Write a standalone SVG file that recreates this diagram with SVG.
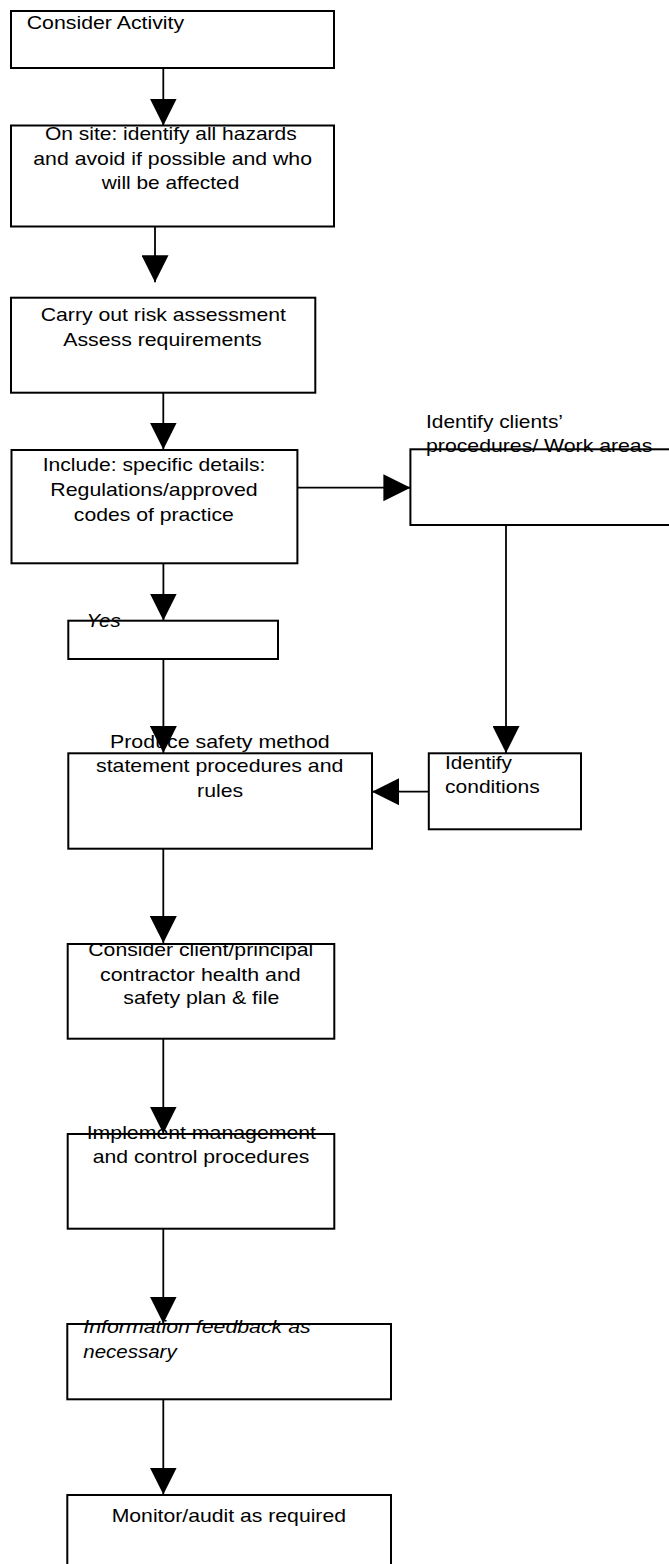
<svg xmlns="http://www.w3.org/2000/svg" width="669" height="1564" viewBox="0 0 669 1564">
<style>
  .box { fill: #ffffff; stroke: #000000; stroke-width: 2; }
  .t { font-family: "Liberation Sans", Arial, sans-serif; font-size: 19px; fill: #000000; }
  .i { font-style: italic; }
  .c { fill: none; stroke: #000000; stroke-width: 1.8; }
</style>
<defs>
  <marker id="ah" viewBox="0 0 27 27" refX="27" refY="13.5" markerWidth="27" markerHeight="27" markerUnits="userSpaceOnUse" orient="auto">
    <path d="M0,0 L27,13.5 L0,27 Z" fill="#000000"/>
  </marker>
</defs>
<rect width="669" height="1564" fill="#ffffff"/>

<g id="n1">
  <rect class="box" x="11" y="11" width="323" height="57"/>
  <text class="t" x="26.7" y="29" textLength="157.5" lengthAdjust="spacingAndGlyphs">Consider Activity</text>
</g>
<g id="n2">
  <rect class="box" x="11" y="125.5" width="323" height="101"/>
  <text class="t" x="45" y="140" textLength="251.7" lengthAdjust="spacingAndGlyphs">On site: identify all hazards</text>
  <text class="t" x="33.3" y="164.5" textLength="278.7" lengthAdjust="spacingAndGlyphs">and avoid if possible and who</text>
  <text class="t" x="101.7" y="189" textLength="137.6" lengthAdjust="spacingAndGlyphs">will be affected</text>
</g>
<g id="n3">
  <rect class="box" x="11" y="297.7" width="304.3" height="95"/>
  <text class="t" x="40.7" y="320.7" textLength="245.3" lengthAdjust="spacingAndGlyphs">Carry out risk assessment</text>
  <text class="t" x="63.3" y="346" textLength="198.4" lengthAdjust="spacingAndGlyphs">Assess requirements</text>
</g>
<g id="n4">
  <rect class="box" x="11.5" y="450" width="285.9" height="113.3"/>
  <text class="t" x="42.7" y="471" textLength="222.7" lengthAdjust="spacingAndGlyphs">Include: specific details:</text>
  <text class="t" x="50.3" y="495.7" textLength="207.4" lengthAdjust="spacingAndGlyphs">Regulations/approved</text>
  <text class="t" x="73.8" y="520.7" textLength="160" lengthAdjust="spacingAndGlyphs">codes of practice</text>
</g>
<g id="n5">
  <rect class="box" x="410.4" y="449.3" width="270" height="75.7"/>
  <text class="t" x="426" y="428.3" textLength="137" lengthAdjust="spacingAndGlyphs">Identify clients’</text>
  <text class="t" x="426" y="451.7" textLength="226.3" lengthAdjust="spacingAndGlyphs">procedures/ Work areas</text>
</g>
<g id="n6">
  <rect class="box" x="68.3" y="620.7" width="209.7" height="38.3"/>
  <text class="t i" x="86.6" y="626.7" textLength="34" lengthAdjust="spacingAndGlyphs">Yes</text>
</g>
<g id="n7">
  <rect class="box" x="68.3" y="753.3" width="303.7" height="95.4"/>
  <text class="t" x="110" y="748.3" textLength="219.7" lengthAdjust="spacingAndGlyphs">Produce safety method</text>
  <text class="t" x="96" y="771.7" textLength="247.4" lengthAdjust="spacingAndGlyphs">statement procedures and</text>
  <text class="t" x="197.1" y="796.7" textLength="46" lengthAdjust="spacingAndGlyphs">rules</text>
</g>
<g id="n8">
  <rect class="box" x="428.8" y="753.3" width="152.2" height="76"/>
  <text class="t" x="445" y="769.3" textLength="67" lengthAdjust="spacingAndGlyphs">Identify</text>
  <text class="t" x="445" y="792.7" textLength="94.7" lengthAdjust="spacingAndGlyphs">conditions</text>
</g>
<g id="n9">
  <rect class="box" x="67.7" y="944" width="266.6" height="94.7"/>
  <text class="t" x="88.3" y="956" textLength="225" lengthAdjust="spacingAndGlyphs">Consider client/principal</text>
  <text class="t" x="100" y="980.7" textLength="200.7" lengthAdjust="spacingAndGlyphs">contractor health and</text>
  <text class="t" x="123.3" y="1004" textLength="156" lengthAdjust="spacingAndGlyphs">safety plan &amp; file</text>
</g>
<g id="n10">
  <rect class="box" x="67.7" y="1134" width="266.6" height="94.7"/>
  <text class="t" x="86.7" y="1139.3" textLength="229.3" lengthAdjust="spacingAndGlyphs">Implement management</text>
  <text class="t" x="92.7" y="1163.3" textLength="216.6" lengthAdjust="spacingAndGlyphs">and control procedures</text>
</g>
<g id="n11">
  <rect class="box" x="67.3" y="1324" width="323.7" height="75.3"/>
  <text class="t i" x="83.3" y="1333.3" textLength="227.4" lengthAdjust="spacingAndGlyphs">Information feedback as</text>
  <text class="t i" x="83.3" y="1358.3" textLength="93.4" lengthAdjust="spacingAndGlyphs">necessary</text>
</g>
<g id="n12">
  <rect class="box" x="67.3" y="1495" width="323.7" height="80"/>
  <text class="t" x="111.7" y="1521.7" textLength="234.3" lengthAdjust="spacingAndGlyphs">Monitor/audit as required</text>
</g>

<g id="connectors">
  <path class="c" d="M163.3,68 V125.5" marker-end="url(#ah)"/>
  <path class="c" d="M155,226.7 V282.3" marker-end="url(#ah)"/>
  <path class="c" d="M163.3,392.7 V449.5" marker-end="url(#ah)"/>
  <path class="c" d="M297.4,487.7 H410.4" marker-end="url(#ah)"/>
  <path class="c" d="M163.4,563.3 V620.5" marker-end="url(#ah)"/>
  <path class="c" d="M163.4,659 V753" marker-end="url(#ah)"/>
  <path class="c" d="M506,525 V753" marker-end="url(#ah)"/>
  <path class="c" d="M428.8,791.7 H372" marker-end="url(#ah)"/>
  <path class="c" d="M163.3,848.7 V943" marker-end="url(#ah)"/>
  <path class="c" d="M163.3,1038.7 V1133.5" marker-end="url(#ah)"/>
  <path class="c" d="M163.3,1228.7 V1323.5" marker-end="url(#ah)"/>
  <path class="c" d="M163.3,1399.3 V1494.5" marker-end="url(#ah)"/>
</g>
</svg>
